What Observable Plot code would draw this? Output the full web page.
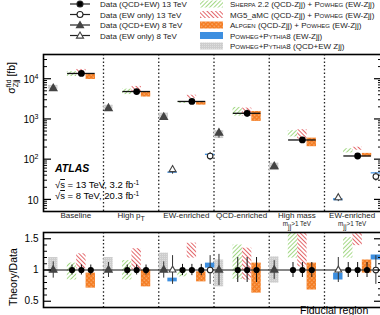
<!DOCTYPE html>
<html><head><meta charset="utf-8">
<script src="https://cdn.jsdelivr.net/npm/d3@7"></script>
<script src="https://cdn.jsdelivr.net/npm/@observablehq/plot@0.6"></script>
<style>
html,body{margin:0;padding:0;background:#fff;overflow:hidden;width:380px;height:315px;}
#wrap{position:relative;width:400px;height:315px;overflow:hidden;font-family:"Liberation Sans",Arial,Helvetica,sans-serif;}
#wrap svg{position:absolute;left:0;overflow:visible;background:transparent;max-width:none;}
</style></head><body><div id="wrap"></div>
<script>
// Fiducial regions
const regionNames = ["Baseline", "High p_{T}", "EW-enriched", "QCD-enriched", "High mass", "EW-enriched"];
const regionNotes = ["", "", "", "", "m_{jj}>1 TeV", "m_{jj}>1 TeV"];

// Measured fiducial cross sections [fb] and relative uncertainties
const data13 = [13500, 4800, 2720, 1380, 300, 120];        // Data (QCD+EW) 13 TeV
const data13Err = [0.08, 0.08, 0.09, 0.2, 0.12, 0.12];
const ew13 = [null, null, 120, null, null, 37];             // Data (EW only) 13 TeV
const ew13Err = [null, null, 0.23, null, null, 0.23];
const data8 = [5700, 1830, 1100, 445, 66, null];            // Data (QCD+EW) 8 TeV
const data8Err = [0.13, 0.12, 0.13, 0.25, 0.15, null];
const ew8 = [null, null, 55, null, null, 11];               // Data (EW only) 8 TeV
const ew8Err = [null, null, 0.23, null, null, 0.2];

// Theory / data bands (low, high)
const sherpaLo = [0.84, 0.84, 0.89, 0.85, 1.19, 1.19];
const sherpaHi = [1.11, 1.15, 1.00, 1.40, 1.70, 1.52];
const mg5Lo = [1.02, 1.00, 1.19, 0.84, 1.05, 1.39];
const mg5Hi = [1.26, 1.34, 1.43, 1.35, 1.80, 1.65];
const alpgenLo = [0.71, 0.73, 0.81, 0.63, 0.68, 0.95];
const alpgenHi = [0.95, 1.00, 0.97, 1.11, 1.11, 1.16];
const powhegQcdEwLo = [0.95, 0.95, 0.95, 0.73, 0.79, null];  // vs 8 TeV QCD+EW data
const powhegQcdEwHi = [1.20, 1.20, 1.27, 1.16, 1.21, null];
const powhegEw13Lo = [null, null, 1.03, null, null, 1.16];    // vs 13 TeV EW-only data
const powhegEw13Hi = [null, null, 1.11, null, null, 1.24];
const powhegEw8Lo = [null, null, 0.81, null, null, 0.84];     // vs 8 TeV EW-only data
const powhegEw8Hi = [null, null, 0.87, null, null, 0.95];

// Tick labels
const logTicks = [10, 100, 1000, 10000];
const logTickLabels = ["10", "10^{2}", "10^{3}", "10^{4}"];
const ratioTicks = [0.5, 1, 1.5];
const ratioTickLabels = ["0.5", "1", "1.5"];

// Placement of each entry inside its region (fraction of region width)
const OFF = {tri8: 0.09, ew8: 0.25, sherpa: 0.43, mg5: 0.6, alpgen: 0.77, data13: 0.6, ew13: 0.93};
const HALF = 0.085;

const COL = {green: "#7cc850", red: "#d8232a", orange: "#f47b20", blue: "#3d8fe0", gray: "#cdcdcd"};
const FONT = '"Liberation Sans", Arial, Helvetica, sans-serif';

const wrap = document.getElementById("wrap");
const idx = regionNames.map((_, i) => i);

// Converts "a^{b}_{c}" markup into tspans
function rich(el, str, base) {
  const parts = [];
  const re = /([_^])\{([^}]*)\}/g;
  let last = 0, m;
  while ((m = re.exec(str))) {
    if (m.index > last) parts.push({t: str.slice(last, m.index), s: 0});
    parts.push({t: m[2], s: m[1] === "^" ? -1 : 1});
    last = re.lastIndex;
  }
  if (last < str.length) parts.push({t: str.slice(last), s: 0});
  el.textContent = "";
  let cur = 0, prevSup = null;
  for (const p of parts) {
    const ts = document.createElementNS("http://www.w3.org/2000/svg", "tspan");
    const target = p.s === -1 ? -0.42 * base : p.s === 1 ? 0.28 * base : 0;
    ts.setAttribute("dy", (target - cur).toFixed(2));
    cur = target;
    if (p.s !== 0) ts.setAttribute("font-size", (base * 0.7).toFixed(2));
    ts.textContent = p.t;
    el.appendChild(ts);
    if (p.s === 1 && prevSup) {
      const w = prevSup.getComputedTextLength();
      ts.setAttribute("dx", (-w).toFixed(2));
    }
    prevSup = p.s === -1 ? ts : null;
  }
}
function richAll(svg, base) {
  d3.select(svg).selectAll("text").each(function () {
    const s = this.textContent;
    if (/[_^]\{/.test(s)) rich(this, s, +(this.getAttribute("font-size") || base));
  });
}

// Upper panel: cross sections
const frameW = 339;
const minorLog = [];
for (let k = 0; k <= 4; k++) for (let m = 2; m <= 9; m++) {
  const v = m * 10 ** k;
  if (v >= 5 && v <= 40000 && !logTicks.includes(v)) minorLog.push(v);
}
const has = (a) => idx.filter(i => a[i] != null);

function boxes(lo, hi, off, scaleBy) {
  return has(lo).map(i => ({x1: i + off - HALF, x2: i + off + HALF,
    y1: lo[i] * (scaleBy ? scaleBy[i] : 1), y2: hi[i] * (scaleBy ? scaleBy[i] : 1)}));
}
function points(vals, errs, off, ratio) {
  return has(vals).map(i => ({x: i + off, y: ratio ? 1 : vals[i],
    y1: (ratio ? 1 : vals[i]) * (1 - errs[i]), y2: (ratio ? 1 : vals[i]) * (1 + errs[i])}));
}

const upper = Plot.plot({
  width: 390, height: 180,
  marginLeft: 43, marginRight: 8, marginTop: 14, marginBottom: 9,
  style: {fontFamily: FONT, background: "transparent", overflow: "visible"},
  x: {domain: [-0.086, 6.05], axis: null},
  y: {type: "log", domain: [5, 40000], axis: null},
  marks: [
    Plot.ruleX([1, 2, 3, 4, 5], {stroke: "#222", strokeWidth: 1.3, strokeDasharray: "1.5,2.2"}),
    Plot.rect(boxes(powhegQcdEwLo, powhegQcdEwHi, OFF.tri8, data8), {x1: "x1", x2: "x2", y1: "y1", y2: "y2", fill: "url(#fill-gray)"}),
    Plot.rect(boxes(powhegEw8Lo, powhegEw8Hi, OFF.ew8, ew8), {x1: "x1", x2: "x2", y1: "y1", y2: "y2", fill: COL.blue}),
    Plot.rect(boxes(powhegEw13Lo, powhegEw13Hi, OFF.ew13, ew13), {x1: "x1", x2: "x2", y1: "y1", y2: "y2", fill: COL.blue}),
    Plot.rect(boxes(sherpaLo, sherpaHi, OFF.sherpa, data13), {x1: "x1", x2: "x2", y1: "y1", y2: "y2", fill: "url(#hatch-green)"}),
    Plot.rect(boxes(mg5Lo, mg5Hi, OFF.mg5, data13), {x1: "x1", x2: "x2", y1: "y1", y2: "y2", fill: "url(#hatch-red)"}),
    Plot.rect(boxes(alpgenLo, alpgenHi, OFF.alpgen, data13), {x1: "x1", x2: "x2", y1: "y1", y2: "y2", fill: "url(#cross-orange)"}),
    Plot.ruleY(idx, {x1: i => i + 0.35, x2: i => i + 0.85, y: i => data13[i], stroke: "#111", strokeWidth: 1.3}),
    ...[[data13, data13Err, OFF.data13], [data8, data8Err, OFF.tri8], [ew8, ew8Err, OFF.ew8], [ew13, ew13Err, OFF.ew13]]
      .map(([v, e, o]) => Plot.ruleX(points(v, e, o), {x: "x", y1: "y1", y2: "y2", stroke: "#333", strokeWidth: 1})),
    Plot.dot(points(data8, data8Err, OFF.tri8), {x: "x", y: "y", symbol: "triangle", r: 2.6, fill: "#444", stroke: "#444"}),
    Plot.dot(points(ew8, ew8Err, OFF.ew8), {x: "x", y: "y", symbol: "triangle", r: 2.6, fill: "white", stroke: "#444", strokeWidth: 1.1}),
    Plot.dot(points(ew13, ew13Err, OFF.ew13), {x: "x", y: "y", r: 2.8, fill: "white", stroke: "#222", strokeWidth: 1.1}),
    Plot.dot(points(data13, data13Err, OFF.data13), {x: "x", y: "y", r: 3.4, fill: "#000"}),
    // inward ticks on both vertical axes
    Plot.tickY(logTicks, {y: d => d, insetRight: frameW - 8, stroke: "#000", strokeWidth: 1.2}),
    Plot.tickY(minorLog, {y: d => d, insetRight: frameW - 4, stroke: "#000", strokeWidth: 1}),
    Plot.tickY(logTicks, {y: d => d, insetLeft: frameW - 8, stroke: "#000", strokeWidth: 1.2}),
    Plot.tickY(minorLog, {y: d => d, insetLeft: frameW - 4, stroke: "#000", strokeWidth: 1}),
    Plot.text(logTicks, {y: d => d, text: (d, i) => logTickLabels[i], frameAnchor: "left", textAnchor: "end", dx: -5, dy: 1, fontSize: 10, fill: "#000"}),
    Plot.text(idx, {x: i => i + 0.5, text: i => regionNames[i], frameAnchor: "bottom", dy: 6.5, fontSize: 8, fill: "#222"}),
    Plot.text(idx.filter(i => regionNotes[i]), {x: i => i + 0.5, text: i => regionNotes[i], frameAnchor: "bottom", dy: 14.5, fontSize: 6.3, fill: "#222"}),
    Plot.frame({stroke: "#000", strokeWidth: 1.6})
  ]
});
upper.style.top = "40px";
wrap.appendChild(upper);
richAll(upper, 10);

// Lower panel: theory / data
const minorRatio = d3.range(0.4, 1.61, 0.1).map(v => +v.toFixed(2)).filter(v => !ratioTicks.includes(v));
const lower = Plot.plot({
  width: 390, height: 96,
  marginLeft: 43, marginRight: 8, marginTop: 10, marginBottom: 11,
  style: {fontFamily: FONT, background: "transparent", overflow: "visible"},
  x: {domain: [-0.086, 6.05], axis: null},
  y: {domain: [0.4, 1.6], axis: null},
  marks: [
    Plot.ruleX([1, 2, 3, 4, 5], {stroke: "#222", strokeWidth: 1.3, strokeDasharray: "1.5,2.2"}),
    Plot.rect(boxes(powhegQcdEwLo, powhegQcdEwHi, OFF.tri8), {x1: "x1", x2: "x2", y1: "y1", y2: "y2", fill: "url(#fill-gray)", clip: true}),
    Plot.rect(boxes(powhegEw8Lo, powhegEw8Hi, OFF.ew8), {x1: "x1", x2: "x2", y1: "y1", y2: "y2", fill: COL.blue, clip: true}),
    Plot.rect(boxes(powhegEw13Lo, powhegEw13Hi, OFF.ew13), {x1: "x1", x2: "x2", y1: "y1", y2: "y2", fill: COL.blue, clip: true}),
    Plot.rect(boxes(sherpaLo, sherpaHi, OFF.sherpa), {x1: "x1", x2: "x2", y1: "y1", y2: "y2", fill: "url(#hatch-green)", clip: true}),
    Plot.rect(boxes(mg5Lo, mg5Hi, OFF.mg5), {x1: "x1", x2: "x2", y1: "y1", y2: "y2", fill: "url(#hatch-red)", clip: true}),
    Plot.rect(boxes(alpgenLo, alpgenHi, OFF.alpgen), {x1: "x1", x2: "x2", y1: "y1", y2: "y2", fill: "url(#cross-orange)", clip: true}),
    Plot.ruleY([1], {stroke: "#111", strokeWidth: 1}),
    ...[[data8, data8Err, OFF.tri8], [ew8, ew8Err, OFF.ew8], [ew13, ew13Err, OFF.ew13]]
      .map(([v, e, o]) => Plot.ruleX(points(v, e, o, true), {x: "x", y1: "y1", y2: "y2", stroke: "#333", strokeWidth: 1})),
    ...["sherpa", "mg5", "alpgen"].map(k => Plot.ruleX(points(data13, data13Err, OFF[k], true), {x: "x", y1: "y1", y2: "y2", stroke: "#111", strokeWidth: 1})),
    Plot.dot(points(data8, data8Err, OFF.tri8, true), {x: "x", y: "y", symbol: "triangle", r: 2.5, fill: "#444", stroke: "#444"}),
    Plot.dot(points(ew8, ew8Err, OFF.ew8, true), {x: "x", y: "y", symbol: "triangle", r: 2.5, fill: "white", stroke: "#444", strokeWidth: 1.1}),
    Plot.dot(points(ew13, ew13Err, OFF.ew13, true), {x: "x", y: "y", r: 2.8, fill: "white", stroke: "#222", strokeWidth: 1.1}),
    ...["sherpa", "mg5", "alpgen"].map(k => Plot.dot(points(data13, data13Err, OFF[k], true), {x: "x", y: "y", r: 3.1, fill: "#000"})),
    Plot.tickY(ratioTicks, {y: d => d, insetRight: frameW - 8, stroke: "#000", strokeWidth: 1.2}),
    Plot.tickY(minorRatio, {y: d => d, insetRight: frameW - 4, stroke: "#000", strokeWidth: 1}),
    Plot.tickY(ratioTicks, {y: d => d, insetLeft: frameW - 8, stroke: "#000", strokeWidth: 1.2}),
    Plot.tickY(minorRatio, {y: d => d, insetLeft: frameW - 4, stroke: "#000", strokeWidth: 1}),
    Plot.text(ratioTicks, {y: d => d, text: (d, i) => ratioTickLabels[i], frameAnchor: "left", textAnchor: "end", dx: -5, fontSize: 10, fill: "#000"}),
    Plot.frame({stroke: "#000", strokeWidth: 1.6})
  ]
});
lower.style.top = "222px";
wrap.appendChild(lower);

// Patterns, legend and annotations
const over = d3.select(wrap).append("svg").attr("width", 400).attr("height", 330)
  .style("top", "0px").style("pointer-events", "none").attr("font-family", FONT);
const defs = over.append("defs");
function hatch(id, color, angle) {
  const p = defs.append("pattern").attr("id", id).attr("patternUnits", "userSpaceOnUse")
    .attr("width", 3).attr("height", 3).attr("patternTransform", `rotate(${angle})`);
  p.append("rect").attr("width", 3).attr("height", 3).attr("fill", "white");
  p.append("line").attr("x1", 0).attr("y1", 0).attr("x2", 0).attr("y2", 3)
    .attr("stroke", color).attr("stroke-width", 1.4);
}
hatch("hatch-green", COL.green, 45);
hatch("hatch-red", COL.red, -45);
{
  const p = defs.append("pattern").attr("id", "cross-orange").attr("patternUnits", "userSpaceOnUse")
    .attr("width", 3).attr("height", 3).attr("patternTransform", "rotate(45)");
  p.append("rect").attr("width", 3).attr("height", 3).attr("fill", COL.orange);
  p.append("rect").attr("x", 1.6).attr("y", 1.6).attr("width", 1.1).attr("height", 1.1).attr("fill", "#fde0c4");
}
{
  const p = defs.append("pattern").attr("id", "fill-gray").attr("patternUnits", "userSpaceOnUse")
    .attr("width", 2).attr("height", 2);
  p.append("rect").attr("width", 2).attr("height", 2).attr("fill", COL.gray);
  p.append("rect").attr("width", 1).attr("height", 1).attr("fill", "#dedede");
}

// Legend: data
const dataLegend = ["Data (QCD+EW) 13 TeV", "Data (EW only) 13 TeV", "Data (QCD+EW) 8 TeV", "Data (EW only) 8 TeV"];
const legDataY = [4, 14.5, 25, 35.5];
dataLegend.forEach((t, i) => {
  const y = legDataY[i];
  over.append("line").attr("x1", 70).attr("x2", 90).attr("y1", y).attr("y2", y).attr("stroke", "#222").attr("stroke-width", 1.2);
  if (i < 2) over.append("circle").attr("cx", 80).attr("cy", y).attr("r", 3)
    .attr("fill", i === 0 ? "#000" : "white").attr("stroke", "#222").attr("stroke-width", 1.1);
  else over.append("path").attr("d", d3.symbol(d3.symbolTriangle, 22)()).attr("transform", `translate(80,${y + 0.6})`)
    .attr("fill", i === 2 ? "#444" : "white").attr("stroke", "#444").attr("stroke-width", 1.1);
  over.append("text").attr("x", 100).attr("y", y + 3).attr("font-size", 8).attr("fill", "#222").text(t);
});

// Legend: predictions
const theoryLegend = [
  [["Sherpa", 1], [" 2.2 (QCD-Zjj) + ", 0], ["Powheg", 1], [" (EW-Zjj)", 0]],
  [["MG5_aMC (QCD-Zjj) + ", 0], ["Powheg", 1], [" (EW-Zjj)", 0]],
  [["Alpgen", 1], [" (QCD-Zjj) + ", 0], ["Powheg", 1], [" (EW-Zjj)", 0]],
  [["Powheg+Pythia8", 1], [" (EW-Zjj)", 0]],
  [["Powheg+Pythia8", 1], [" (QCD+EW Zjj)", 0]]
];
const theoryFills = ["url(#hatch-green)", "url(#hatch-red)", "url(#cross-orange)", COL.blue, "url(#fill-gray)"];
const legTheoryY = [4, 14.5, 25, 35.5, 46];
theoryLegend.forEach((parts, i) => {
  const y = legTheoryY[i];
  over.append("rect").attr("x", 200).attr("y", y - 3.5).attr("width", 23).attr("height", 7).attr("fill", theoryFills[i]);
  const t = over.append("text").attr("x", 230).attr("y", y + 3).attr("font-size", 8).attr("fill", "#222");
  parts.forEach(([s, sc]) => t.append("tspan").style("font-variant", sc ? "small-caps" : null).text(s));
});

// ATLAS label
over.append("text").attr("x", 55).attr("y", 172).attr("font-size", 10.5).attr("font-weight", "bold")
  .attr("font-style", "italic").attr("fill", "#000").text("ATLAS");
[["13 TeV, 3.2 fb", 188], ["8 TeV, 20.3 fb", 199]].forEach(([s, y]) => {
  const t = over.append("text").attr("x", 55).attr("y", y).attr("font-size", 9.5).attr("fill", "#000");
  t.append("tspan").text("√");
  t.append("tspan").style("text-decoration", "overline").text("s");
  t.append("tspan").text(" = " + s);
  t.append("tspan").attr("dy", -3.5).attr("font-size", 6.5).text("-1");
});

// Axis titles
const yt = over.append("text").attr("transform", "translate(15,62) rotate(-90)").attr("text-anchor", "end")
  .attr("font-size", 10.5).attr("fill", "#000");
rich(yt.node(), "σ^{fid}_{Zjj} [fb]", 10.5);
over.append("text").attr("transform", "translate(17,306) rotate(-90)").attr("text-anchor", "start")
  .attr("font-size", 10.5).attr("fill", "#000").text("Theory/Data");
over.append("text").attr("x", 300).attr("y", 314).attr("font-size", 10.5).attr("fill", "#000").text("Fiducial region");
</script></body></html>
